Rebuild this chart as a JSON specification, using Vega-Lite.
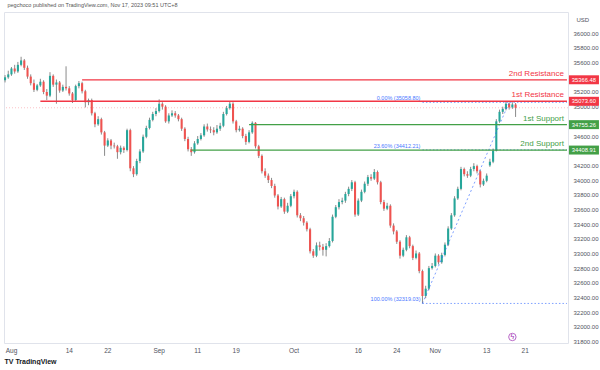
{
"$schema":"https://vega.github.io/schema/vega-lite/v6.json",
"width":564,"height":331,
"padding":{"left":3,"top":2,"right":0,"bottom":0},
"background":"white",
"title":{"text":"pegchoco published on TradingView.com, Nov 17, 2023 09:51 UTC+8","anchor":"start","fontSize":5.5,"fontWeight":"normal","color":"#555","offset":4,"dx":4},
"config":{"font":"Liberation Sans","view":{"stroke":"#e0e3eb"},"axis":{"labelOverlap":false},"axisY":{"labelOverlap":false,"labelBound":false,"tickCount":40}},
"datasets":{
"candles":[
{"t":"2023-07-31 06:00","o":35360,"h":35430,"l":35330,"c":35400},
{"t":"2023-07-31 18:00","o":35400,"h":35490,"l":35380,"c":35440},
{"t":"2023-08-01 06:00","o":35440,"h":35540,"l":35420,"c":35520},
{"t":"2023-08-01 18:00","o":35520,"h":35570,"l":35450,"c":35480},
{"t":"2023-08-02 06:00","o":35480,"h":35610,"l":35460,"c":35570},
{"t":"2023-08-02 18:00","o":35570,"h":35680,"l":35550,"c":35630},
{"t":"2023-08-03 06:00","o":35630,"h":35650,"l":35500,"c":35530},
{"t":"2023-08-03 18:00","o":35530,"h":35560,"l":35380,"c":35410},
{"t":"2023-08-04 06:00","o":35410,"h":35440,"l":35290,"c":35320},
{"t":"2023-08-04 18:00","o":35320,"h":35370,"l":35200,"c":35230},
{"t":"2023-08-07 06:00","o":35230,"h":35310,"l":35210,"c":35290},
{"t":"2023-08-07 18:00","o":35290,"h":35380,"l":35270,"c":35340},
{"t":"2023-08-08 06:00","o":35340,"h":35360,"l":35170,"c":35200},
{"t":"2023-08-08 18:00","o":35200,"h":35240,"l":35090,"c":35150},
{"t":"2023-08-09 06:00","o":35150,"h":35470,"l":35130,"c":35420},
{"t":"2023-08-09 18:00","o":35420,"h":35440,"l":35270,"c":35300},
{"t":"2023-08-10 06:00","o":35300,"h":35370,"l":35040,"c":35330},
{"t":"2023-08-10 18:00","o":35330,"h":35350,"l":35190,"c":35220},
{"t":"2023-08-11 06:00","o":35220,"h":35300,"l":35200,"c":35270},
{"t":"2023-08-11 18:00","o":35270,"h":35550,"l":35220,"c":35250},
{"t":"2023-08-14 06:00","o":35250,"h":35280,"l":35150,"c":35180},
{"t":"2023-08-14 18:00","o":35180,"h":35200,"l":35050,"c":35090},
{"t":"2023-08-15 06:00","o":35090,"h":35300,"l":35070,"c":35280},
{"t":"2023-08-15 18:00","o":35280,"h":35350,"l":35250,"c":35320},
{"t":"2023-08-16 06:00","o":35320,"h":35340,"l":35180,"c":35210},
{"t":"2023-08-16 18:00","o":35210,"h":35230,"l":34990,"c":35060},
{"t":"2023-08-17 06:00","o":35060,"h":35110,"l":35020,"c":35090},
{"t":"2023-08-17 18:00","o":35090,"h":35110,"l":34880,"c":34910},
{"t":"2023-08-18 06:00","o":34910,"h":34930,"l":34720,"c":34760},
{"t":"2023-08-18 18:00","o":34760,"h":34870,"l":34740,"c":34830},
{"t":"2023-08-21 06:00","o":34830,"h":34850,"l":34620,"c":34650},
{"t":"2023-08-21 18:00","o":34650,"h":34670,"l":34330,"c":34470},
{"t":"2023-08-22 06:00","o":34470,"h":34570,"l":34450,"c":34540},
{"t":"2023-08-22 18:00","o":34540,"h":34560,"l":34420,"c":34470},
{"t":"2023-08-23 06:00","o":34470,"h":34510,"l":34430,"c":34460},
{"t":"2023-08-23 18:00","o":34460,"h":34480,"l":34290,"c":34380},
{"t":"2023-08-24 06:00","o":34380,"h":34470,"l":34350,"c":34440},
{"t":"2023-08-24 18:00","o":34440,"h":34460,"l":34370,"c":34410},
{"t":"2023-08-25 06:00","o":34410,"h":34700,"l":34390,"c":34680},
{"t":"2023-08-25 18:00","o":34680,"h":34700,"l":34120,"c":34160},
{"t":"2023-08-28 06:00","o":34160,"h":34190,"l":34040,"c":34080},
{"t":"2023-08-28 18:00","o":34080,"h":34290,"l":34060,"c":34260},
{"t":"2023-08-29 06:00","o":34260,"h":34420,"l":34230,"c":34390},
{"t":"2023-08-29 18:00","o":34390,"h":34620,"l":34370,"c":34590},
{"t":"2023-08-30 06:00","o":34590,"h":34740,"l":34570,"c":34710},
{"t":"2023-08-30 18:00","o":34710,"h":34850,"l":34690,"c":34820},
{"t":"2023-08-31 06:00","o":34820,"h":34930,"l":34800,"c":34900},
{"t":"2023-08-31 18:00","o":34900,"h":34980,"l":34870,"c":34940},
{"t":"2023-09-01 06:00","o":34940,"h":35100,"l":34920,"c":35040},
{"t":"2023-09-01 18:00","o":35040,"h":35060,"l":34960,"c":35000},
{"t":"2023-09-04 06:00","o":35000,"h":35020,"l":34780,"c":34800},
{"t":"2023-09-04 18:00","o":34800,"h":34910,"l":34770,"c":34880},
{"t":"2023-09-05 06:00","o":34880,"h":34950,"l":34860,"c":34910},
{"t":"2023-09-05 18:00","o":34910,"h":34940,"l":34850,"c":34880},
{"t":"2023-09-06 06:00","o":34880,"h":34900,"l":34800,"c":34830},
{"t":"2023-09-06 18:00","o":34830,"h":34850,"l":34670,"c":34700},
{"t":"2023-09-07 06:00","o":34700,"h":34720,"l":34530,"c":34560},
{"t":"2023-09-07 18:00","o":34560,"h":34590,"l":34390,"c":34420},
{"t":"2023-09-08 06:00","o":34420,"h":34450,"l":34330,"c":34380},
{"t":"2023-09-08 18:00","o":34380,"h":34530,"l":34360,"c":34500},
{"t":"2023-09-11 06:00","o":34500,"h":34600,"l":34480,"c":34560},
{"t":"2023-09-11 18:00","o":34560,"h":34640,"l":34540,"c":34610},
{"t":"2023-09-12 06:00","o":34610,"h":34760,"l":34590,"c":34730},
{"t":"2023-09-12 18:00","o":34730,"h":34770,"l":34660,"c":34690},
{"t":"2023-09-13 06:00","o":34690,"h":34730,"l":34640,"c":34680},
{"t":"2023-09-13 18:00","o":34680,"h":34720,"l":34610,"c":34650},
{"t":"2023-09-14 06:00","o":34650,"h":34750,"l":34630,"c":34700},
{"t":"2023-09-14 18:00","o":34700,"h":34780,"l":34670,"c":34740},
{"t":"2023-09-15 06:00","o":34740,"h":34930,"l":34720,"c":34900},
{"t":"2023-09-15 18:00","o":34900,"h":35010,"l":34880,"c":34980},
{"t":"2023-09-18 06:00","o":34980,"h":35070,"l":34960,"c":35040},
{"t":"2023-09-18 18:00","o":35040,"h":35060,"l":34770,"c":34800},
{"t":"2023-09-19 06:00","o":34800,"h":34820,"l":34650,"c":34680},
{"t":"2023-09-19 18:00","o":34680,"h":34740,"l":34660,"c":34700},
{"t":"2023-09-20 06:00","o":34700,"h":34720,"l":34570,"c":34600},
{"t":"2023-09-20 18:00","o":34600,"h":34630,"l":34480,"c":34520},
{"t":"2023-09-21 06:00","o":34520,"h":34680,"l":34500,"c":34650},
{"t":"2023-09-21 18:00","o":34650,"h":34800,"l":34630,"c":34780},
{"t":"2023-09-22 06:00","o":34780,"h":34790,"l":34430,"c":34460},
{"t":"2023-09-22 18:00","o":34460,"h":34480,"l":34300,"c":34330},
{"t":"2023-09-25 06:00","o":34330,"h":34350,"l":34090,"c":34120},
{"t":"2023-09-25 18:00","o":34120,"h":34160,"l":34030,"c":34060},
{"t":"2023-09-26 06:00","o":34060,"h":34090,"l":33960,"c":34000},
{"t":"2023-09-26 18:00","o":34000,"h":34030,"l":33890,"c":33920},
{"t":"2023-09-27 06:00","o":33920,"h":33950,"l":33760,"c":33790},
{"t":"2023-09-27 18:00","o":33790,"h":33810,"l":33600,"c":33640},
{"t":"2023-09-28 06:00","o":33640,"h":33770,"l":33620,"c":33740},
{"t":"2023-09-28 18:00","o":33740,"h":33760,"l":33540,"c":33570},
{"t":"2023-09-29 06:00","o":33570,"h":33690,"l":33550,"c":33650},
{"t":"2023-09-29 18:00","o":33650,"h":33810,"l":33630,"c":33780},
{"t":"2023-10-02 06:00","o":33780,"h":33870,"l":33750,"c":33840},
{"t":"2023-10-02 18:00","o":33840,"h":33860,"l":33490,"c":33520},
{"t":"2023-10-03 06:00","o":33520,"h":33550,"l":33440,"c":33480},
{"t":"2023-10-03 18:00","o":33480,"h":33510,"l":33380,"c":33420},
{"t":"2023-10-04 06:00","o":33420,"h":33440,"l":33300,"c":33330},
{"t":"2023-10-04 18:00","o":33330,"h":33350,"l":33000,"c":33030},
{"t":"2023-10-05 06:00","o":33030,"h":33060,"l":32940,"c":32970},
{"t":"2023-10-05 18:00","o":32970,"h":33150,"l":32950,"c":33110},
{"t":"2023-10-06 06:00","o":33110,"h":33160,"l":33040,"c":33090},
{"t":"2023-10-06 18:00","o":33090,"h":33130,"l":32970,"c":33050},
{"t":"2023-10-09 06:00","o":33050,"h":33140,"l":32960,"c":33100},
{"t":"2023-10-09 18:00","o":33100,"h":33210,"l":33080,"c":33170},
{"t":"2023-10-10 06:00","o":33170,"h":33530,"l":33150,"c":33500},
{"t":"2023-10-10 18:00","o":33500,"h":33660,"l":33480,"c":33630},
{"t":"2023-10-11 06:00","o":33630,"h":33740,"l":33600,"c":33700},
{"t":"2023-10-11 18:00","o":33700,"h":33760,"l":33670,"c":33720},
{"t":"2023-10-12 06:00","o":33720,"h":33840,"l":33690,"c":33810},
{"t":"2023-10-12 18:00","o":33810,"h":33910,"l":33780,"c":33880},
{"t":"2023-10-13 06:00","o":33880,"h":34000,"l":33850,"c":33970},
{"t":"2023-10-13 18:00","o":33970,"h":33990,"l":33500,"c":33530},
{"t":"2023-10-16 06:00","o":33530,"h":33750,"l":33510,"c":33720},
{"t":"2023-10-16 18:00","o":33720,"h":33870,"l":33700,"c":33840},
{"t":"2023-10-17 06:00","o":33840,"h":33980,"l":33820,"c":33950},
{"t":"2023-10-17 18:00","o":33950,"h":34070,"l":33920,"c":34040},
{"t":"2023-10-18 06:00","o":34040,"h":34080,"l":33990,"c":34020},
{"t":"2023-10-18 18:00","o":34020,"h":34150,"l":34000,"c":34110},
{"t":"2023-10-19 06:00","o":34110,"h":34130,"l":33940,"c":33970},
{"t":"2023-10-19 18:00","o":33970,"h":33990,"l":33670,"c":33700},
{"t":"2023-10-20 06:00","o":33700,"h":33730,"l":33580,"c":33610},
{"t":"2023-10-20 18:00","o":33610,"h":33690,"l":33590,"c":33650},
{"t":"2023-10-23 06:00","o":33650,"h":33670,"l":33350,"c":33380},
{"t":"2023-10-23 18:00","o":33380,"h":33410,"l":33260,"c":33300},
{"t":"2023-10-24 06:00","o":33300,"h":33320,"l":33130,"c":33160},
{"t":"2023-10-24 18:00","o":33160,"h":33180,"l":32930,"c":32970},
{"t":"2023-10-25 06:00","o":32970,"h":33080,"l":32950,"c":33050},
{"t":"2023-10-25 18:00","o":33050,"h":33250,"l":33030,"c":33220},
{"t":"2023-10-26 06:00","o":33220,"h":33240,"l":33070,"c":33100},
{"t":"2023-10-26 18:00","o":33100,"h":33120,"l":32910,"c":32940},
{"t":"2023-10-27 06:00","o":32940,"h":33040,"l":32920,"c":33000},
{"t":"2023-10-27 18:00","o":33000,"h":33020,"l":32730,"c":32760},
{"t":"2023-10-30 06:00","o":32760,"h":32780,"l":32319,"c":32420},
{"t":"2023-10-30 18:00","o":32420,"h":32560,"l":32390,"c":32520},
{"t":"2023-10-31 06:00","o":32520,"h":32830,"l":32500,"c":32800},
{"t":"2023-10-31 18:00","o":32800,"h":32870,"l":32780,"c":32830},
{"t":"2023-11-01 06:00","o":32830,"h":33000,"l":32810,"c":32970},
{"t":"2023-11-01 18:00","o":32970,"h":32990,"l":32850,"c":32880},
{"t":"2023-11-02 06:00","o":32880,"h":33010,"l":32860,"c":32980},
{"t":"2023-11-02 18:00","o":32980,"h":33150,"l":32960,"c":33120},
{"t":"2023-11-03 06:00","o":33120,"h":33370,"l":33100,"c":33340},
{"t":"2023-11-03 18:00","o":33340,"h":33550,"l":33320,"c":33520},
{"t":"2023-11-06 06:00","o":33520,"h":33780,"l":33500,"c":33750},
{"t":"2023-11-06 18:00","o":33750,"h":33910,"l":33730,"c":33880},
{"t":"2023-11-07 06:00","o":33880,"h":34180,"l":33860,"c":34150},
{"t":"2023-11-07 18:00","o":34150,"h":34170,"l":34050,"c":34080},
{"t":"2023-11-08 06:00","o":34080,"h":34120,"l":34030,"c":34060},
{"t":"2023-11-08 18:00","o":34060,"h":34180,"l":34040,"c":34150},
{"t":"2023-11-09 06:00","o":34150,"h":34230,"l":34120,"c":34190},
{"t":"2023-11-09 18:00","o":34190,"h":34210,"l":34090,"c":34120},
{"t":"2023-11-10 06:00","o":34120,"h":34140,"l":33900,"c":33940},
{"t":"2023-11-10 18:00","o":33940,"h":34020,"l":33920,"c":33990},
{"t":"2023-11-13 06:00","o":33990,"h":34090,"l":33970,"c":34060},
{"t":"2023-11-13 18:00","o":34200,"h":34290,"l":34180,"c":34250},
{"t":"2023-11-14 06:00","o":34250,"h":34430,"l":34230,"c":34400},
{"t":"2023-11-14 18:00","o":34400,"h":34830,"l":34390,"c":34800},
{"t":"2023-11-15 06:00","o":34800,"h":34960,"l":34780,"c":34930},
{"t":"2023-11-15 18:00","o":34930,"h":35000,"l":34900,"c":34970},
{"t":"2023-11-16 06:00","o":34970,"h":35070,"l":34950,"c":35040},
{"t":"2023-11-16 18:00","o":35040,"h":35060,"l":34960,"c":34990},
{"t":"2023-11-17 06:00","o":34990,"h":35060,"l":34970,"c":35030},
{"t":"2023-11-17 18:00","o":35030,"h":35050,"l":34860,"c":34985}
],
"levels":[
{"name":"2nd Resistance","price":35366.48,"start":"2023-08-16 06:00","kind":"Resistance"},
{"name":"1st Resistance","price":35073.60,"start":"2023-08-07 18:00","kind":"Resistance"},
{"name":"1st Support","price":34755.26,"start":"2023-09-21 06:00","kind":"Support"},
{"name":"2nd Support","price":34408.91,"start":"2023-09-08 06:00","kind":"Support"}
],
"fib":[
{"label":"0.00% (35058.80)","price":35058.80},
{"label":"23.60% (34412.21)","price":34412.21},
{"label":"100.00% (32319.03)","price":32319.03}
],
"trend":[
{"t":"2023-10-30 06:00","v":32319.03},
{"t":"2023-11-16 18:00","v":35058.80}
],
"last":[{"price":34985}],
"event":[{"t":"2023-11-17 06:00","v":31862}]
},
"layer":[
{"data":{"name":"candles"},"mark":{"type":"rule","color":"#8a8a8a","strokeWidth":1},
 "encoding":{
  "x":{"field":"t","type":"ordinal","sort":"ascending",
   "scale":{"domain":{"unionWith":["2023-11-20 06:00","2023-11-20 18:00","2023-11-21 06:00","2023-11-21 18:00","2023-11-22 06:00","2023-11-22 18:00","2023-11-23 06:00","2023-11-23 18:00","2023-11-24 06:00","2023-11-24 18:00","2023-11-27 06:00","2023-11-27 18:00","2023-11-28 06:00","2023-11-28 18:00","2023-11-29 06:00","2023-11-29 18:00"]},"paddingInner":0.35,"paddingOuter":0},
   "axis":{"title":"TV TradingView","titleAnchor":"start","titleAlign":"left","titleFontSize":7,"titleFontWeight":"bold","titleColor":"#131722","titlePadding":4,
    "values":["2023-08-01 06:00","2023-08-14 06:00","2023-08-22 06:00","2023-09-01 06:00","2023-09-11 06:00","2023-09-19 06:00","2023-10-02 06:00","2023-10-16 06:00","2023-10-24 06:00","2023-11-01 06:00","2023-11-13 06:00","2023-11-21 06:00"],
    "labelExpr":"slice(datum.value,5,10)=='08-01' ? 'Aug' : slice(datum.value,5,10)=='09-01' ? 'Sep' : slice(datum.value,5,10)=='10-02' ? 'Oct' : slice(datum.value,5,10)=='11-01' ? 'Nov' : slice(datum.value,8,10)",
    "labelAngle":0,"labelFontSize":6.5,"labelColor":"#50535e","labelPadding":4,"labelOverlap":false,"ticks":false,"domain":false,"grid":false}},
  "y":{"field":"l","type":"quantitative",
   "scale":{"domain":[31780,36290],"nice":false,"zero":false},
   "axis":{"orient":"right","title":"USD","titleAngle":0,"titleAlign":"left","titleBaseline":"middle","titleX":8,"titleY":7,"titleFontSize":6,"titleFontWeight":"normal","titleColor":"#50535e",
    "values":[31800,32000,32200,32400,32600,32800,33000,33200,33400,33600,33800,34000,34200,34600,35000,35200,35600,35800,36000],
    "tickCount":40,"format":".2f","labelFontSize":6,"labelColor":"#50535e","labelPadding":5,"labelOverlap":false,"labelBound":false,"ticks":false,"domain":false,"grid":false}},
  "y2":{"field":"h"}}},
{"data":{"name":"last"},"mark":{"type":"rule","color":"#f23645","opacity":0.3,"strokeDash":[1,2],"strokeWidth":1},
 "encoding":{"y":{"field":"price","type":"quantitative"}}},
{"data":{"name":"candles"},"mark":{"type":"bar"},
 "encoding":{
  "x":{"field":"t","type":"ordinal"},
  "y":{"field":"o","type":"quantitative"},
  "y2":{"field":"c"},
  "color":{"condition":{"test":"datum.c >= datum.o","value":"#26a69a"},"value":"#ef5350"}}},
{"data":{"name":"fib"},"mark":{"type":"rule","color":"#2962ff","opacity":0.6,"strokeDash":[1.5,2],"strokeWidth":1},
 "encoding":{"x":{"datum":"2023-10-30 06:00","type":"ordinal"},"x2":{"datum":"2023-11-29 18:00"},"y":{"field":"price","type":"quantitative"}}},
{"data":{"name":"fib"},"mark":{"type":"text","color":"#2962ff","fontSize":5.5,"align":"right","baseline":"bottom","dx":-2,"dy":-1,"opacity":0.85},
 "encoding":{"x":{"datum":"2023-10-30 06:00","type":"ordinal"},"y":{"field":"price","type":"quantitative"},"text":{"field":"label"}}},
{"data":{"name":"trend"},"mark":{"type":"line","color":"#2962ff","opacity":0.6,"strokeDash":[2,2.5],"strokeWidth":1},
 "encoding":{"x":{"field":"t","type":"ordinal"},"y":{"field":"v","type":"quantitative"}}},
{"data":{"name":"levels"},"mark":{"type":"rule","strokeWidth":1.3},
 "encoding":{"x":{"field":"start","type":"ordinal"},"x2":{"datum":"2023-11-29 18:00"},"y":{"field":"price","type":"quantitative"},
  "color":{"field":"kind","type":"nominal","scale":{"domain":["Resistance","Support"],"range":["#f23645","#43a047"]},"legend":null}}},
{"data":{"name":"levels"},"mark":{"type":"text","fontSize":8,"fontWeight":"normal","align":"right","baseline":"bottom","dx":-3,"dy":-2},
 "encoding":{"x":{"datum":"2023-11-29 18:00","type":"ordinal"},"y":{"field":"price","type":"quantitative"},"text":{"field":"name"},
  "color":{"field":"kind","type":"nominal","legend":null}}},
{"data":{"name":"levels"},"mark":{"type":"point","shape":"M-1.875,-0.56H1.875V0.56H-1.875Z","filled":true,"opacity":1,"size":256,"xOffset":17,"clip":false},
 "encoding":{"x":{"datum":"2023-11-29 18:00","type":"ordinal"},"y":{"field":"price","type":"quantitative"},
  "color":{"field":"kind","type":"nominal","legend":null}}},
{"data":{"name":"levels"},"mark":{"type":"text","fontSize":5.8,"color":"white","align":"center","baseline":"middle","dx":17},
 "encoding":{"x":{"datum":"2023-11-29 18:00","type":"ordinal"},"y":{"field":"price","type":"quantitative"},"text":{"field":"price","type":"quantitative","format":".2f"}}},
{"data":{"name":"event"},"mark":{"type":"point","shape":"circle","filled":false,"color":"#9c27b0","size":55,"strokeWidth":1},
 "encoding":{"x":{"field":"t","type":"ordinal"},"y":{"field":"v","type":"quantitative"}}},
{"data":{"name":"event"},"mark":{"type":"text","text":"ϟ","color":"#9c27b0","fontSize":7,"align":"center","baseline":"middle"},
 "encoding":{"x":{"field":"t","type":"ordinal"},"y":{"field":"v","type":"quantitative"}}}
]
}
